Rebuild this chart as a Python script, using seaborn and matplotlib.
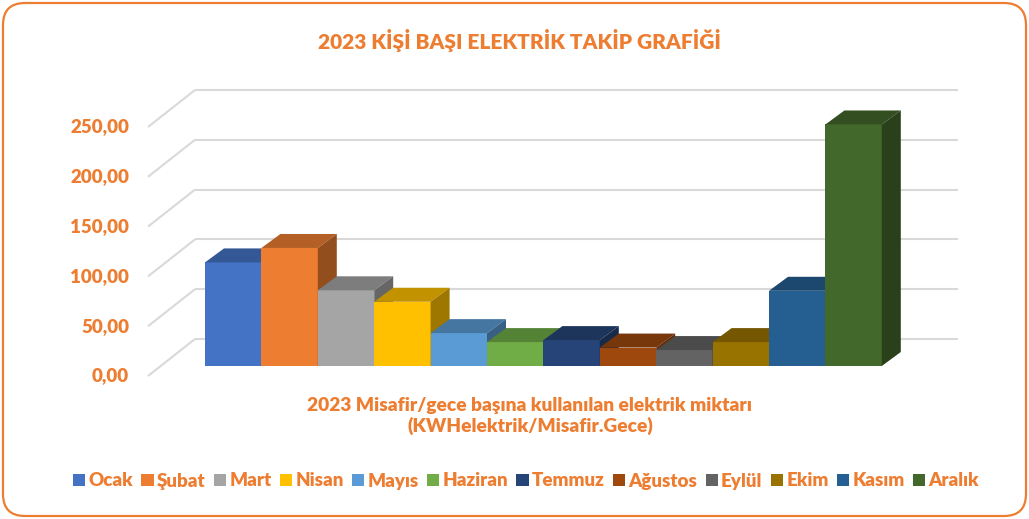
import numpy as np
import matplotlib
matplotlib.use("Agg")
import matplotlib.pyplot as plt
from matplotlib.patches import Polygon, Patch, FancyBboxPatch
import matplotlib.colors as mcolors
import seaborn as sns

# data
months = ["Ocak", "Şubat", "Mart", "Nisan", "Mayıs", "Haziran",
          "Temmuz", "Ağustos", "Eylül", "Ekim", "Kasım", "Aralık"]
values = [104, 118.5, 76, 64.5, 33, 24, 26, 18.5, 16, 24, 75.5, 242.5]
colors = ["#4472C4", "#ED7D31", "#A5A5A5", "#FFC000", "#5B9BD5", "#70AD47",
          "#264478", "#9E480E", "#636363", "#997300", "#255E91", "#43682B"]
ticks = [0, 50, 100, 150, 200, 250]

title = "2023 KİŞİ BAŞI ELEKTRİK TAKİP GRAFİĞİ"
xlabel = "2023 Misafir/gece başına kullanılan elektrik miktarı\n(KWHelektrik/Misafir.Gece)"
ORANGE = "#ED7D31"

sns.set_style("white")
plt.rcParams["font.family"] = ["Lato", "DejaVu Sans"]
plt.rcParams["font.weight"] = "bold"

W, H = 1029, 519
fig = plt.figure(figsize=(W / 100, H / 100), dpi=100)

# pixel geometry of the pseudo-3D frame
X0PX, PITCH = 233.2, 56.4      # centre of first bar, bar pitch
Y0PX, PXU = 366.0, 0.996        # bar baseline, pixels per unit
L, R, T, B = 100, 1000, 60, 395
ax = fig.add_axes([L / W, (H - B) / H, (R - L) / W, (B - T) / H])

sns.barplot(x=months, y=values, hue=months, palette=colors, width=1.0,
            saturation=1, legend=False, ax=ax, linewidth=0)
ax.set_xlim((L - X0PX) / PITCH, (R - X0PX) / PITCH)
ax.set_ylim((Y0PX - B) / PXU, (Y0PX - T) / PXU)
ax.axis("off")

# depth offsets in data units
dxb, dyb = 19 / PITCH, 14 / PXU           # bar depth
fx, fy = -12.7 / PITCH, -10 / PXU          # front plane relative to bar face
bx, by = 34.3 / PITCH, 27 / PXU            # back wall relative to bar face
wall_left = (160.7 - X0PX) / PITCH
wall_right = (923.7 - X0PX) / PITCH

grid_c = "#D9D9D9"
for v in ticks:
    ax.plot([wall_left + fx, wall_left + bx], [v + fy, v + by],
            color=grid_c, lw=1.5, zorder=0.5, solid_capstyle="butt")
    ax.plot([wall_left + bx, wall_right + bx], [v + by, v + by],
            color=grid_c, lw=1.5, zorder=0.5, solid_capstyle="butt")
    ax.text(wall_left + fx - 19 / PITCH, v + fy, f"{v:.2f}".replace(".", ","),
            ha="right", va="center", color=ORANGE, fontsize=13.5, fontweight="heavy")


def shade(c, k):
    r, g, b = mcolors.to_rgb(c)
    return (r * k, g * k, b * k)


for i, p in enumerate(ax.patches):
    z = 2 + i * 0.1
    p.set_zorder(z)
    x0, w, h = p.get_x(), p.get_width(), p.get_height()
    c = p.get_facecolor()
    top = Polygon([(x0, h), (x0 + w, h), (x0 + w + dxb, h + dyb), (x0 + dxb, h + dyb)],
                  closed=True, facecolor=shade(c, 0.76), edgecolor="none", zorder=z)
    side = Polygon([(x0 + w, 0), (x0 + w, h), (x0 + w + dxb, h + dyb), (x0 + w + dxb, dyb)],
                   closed=True, facecolor=shade(c, 0.62), edgecolor="none", zorder=z)
    ax.add_patch(top)
    ax.add_patch(side)

fig.text(0.505, 1 - 40 / H, title, ha="center", va="center", color=ORANGE,
         fontsize=15, fontweight="heavy")
fig.text(0.515, 1 - 416 / H, xlabel, ha="center", va="center", color=ORANGE,
         fontsize=13.8, fontweight="heavy", linespacing=1.25)

handles = [Patch(facecolor=c, edgecolor="none", label=m) for m, c in zip(months, colors)]
fig.legend(handles=handles, loc="center", bbox_to_anchor=(526 / W, 1 - 481 / H),
           ncol=12, frameon=False, handlelength=0.65, handleheight=0.65,
           handletextpad=0.17, columnspacing=0.45, labelcolor=ORANGE,
           prop={"size": 13.5, "weight": "heavy"})

border = FancyBboxPatch((0.03, 0.03), W / 100 - 0.06, H / 100 - 0.06,
                        boxstyle="round,pad=0,rounding_size=0.22",
                        transform=fig.dpi_scale_trans, facecolor="none",
                        edgecolor=ORANGE, lw=1.6)
fig.patches.append(border)

fig.savefig("out.png", dpi=100, facecolor="white")
